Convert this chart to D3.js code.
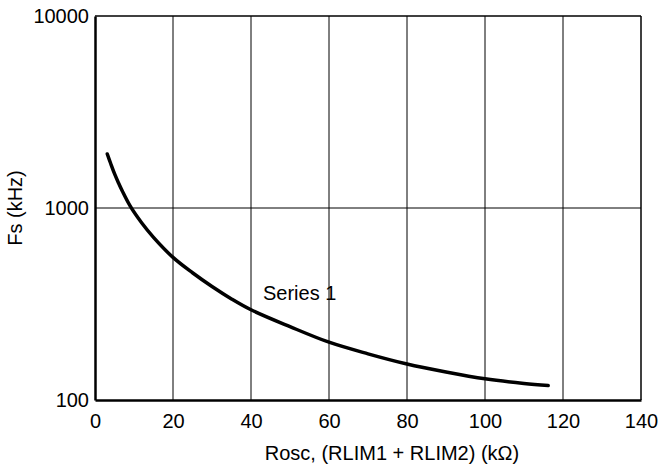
<!DOCTYPE html>
<html>
<head>
<meta charset="utf-8">
<script src="https://cdn.jsdelivr.net/npm/d3@7"></script>
<style>
  body { margin: 0; background: #fff; }
  svg text { font-family: "Liberation Sans", Arial, Helvetica, sans-serif; fill: #000; }
</style>
</head>
<body>
<svg id="chart"></svg>
<script>
// curve readings: Rosc (kOhm) vs Fs (kHz)
const roscValues = [3.15, 4, 5, 6, 7, 9, 12, 15, 20, 25, 30, 35, 40, 50, 60, 70, 80, 90, 100, 110, 116.2];
const fsValues = [1911, 1710, 1510, 1355, 1225, 1025, 835, 703, 553, 460, 390, 336, 295, 241, 200, 174, 154, 140, 129, 122, 119];
const xTicks = [0, 20, 40, 60, 80, 100, 120, 140];
const yTicks = [100, 1000, 10000];
const seriesName = 'Series 1';

const width = 659;
const height = 472;
const margin = { top: 16, right: 18, bottom: 72, left: 95 };
const fontSize = '20px';

const svg = d3.select('#chart')
    .attr('width', width)
    .attr('height', height);

const xScale = d3.scaleLinear()
    .domain([0, 140])
    .range([margin.left, width - margin.right]);

const yScale = d3.scaleLog()
    .domain([100, 10000])
    .range([height - margin.bottom, margin.top]);

// grid
svg.append('g')
    .selectAll('line')
    .data(xTicks.slice(1, -1))
    .join('line')
    .attr('x1', d => xScale(d))
    .attr('x2', d => xScale(d))
    .attr('y1', yScale(10000))
    .attr('y2', yScale(100))
    .attr('stroke', '#000')
    .attr('stroke-width', 1);

svg.append('g')
    .selectAll('line')
    .data(yTicks.slice(1, -1))
    .join('line')
    .attr('x1', xScale(0))
    .attr('x2', xScale(140))
    .attr('y1', d => yScale(d))
    .attr('y2', d => yScale(d))
    .attr('stroke', '#000')
    .attr('stroke-width', 1);

// frame: top and right thin, left and bottom heavy
svg.append('line')
    .attr('x1', xScale(0)).attr('x2', xScale(140))
    .attr('y1', yScale(10000)).attr('y2', yScale(10000))
    .attr('stroke', '#000').attr('stroke-width', 1.5);
svg.append('line')
    .attr('x1', xScale(140)).attr('x2', xScale(140))
    .attr('y1', yScale(10000)).attr('y2', yScale(100))
    .attr('stroke', '#000').attr('stroke-width', 1.5);

const xAxis = d3.axisBottom(xScale)
    .tickValues(xTicks)
    .tickSize(0)
    .tickPadding(14)
    .tickFormat(d3.format('d'));

const yAxis = d3.axisLeft(yScale)
    .tickValues(yTicks)
    .tickSize(0)
    .tickPadding(6)
    .tickFormat(d3.format('d'));

const gx = svg.append('g')
    .attr('transform', `translate(0, ${yScale(100)})`)
    .call(xAxis);
const gy = svg.append('g')
    .attr('transform', `translate(${xScale(0)}, 0)`)
    .call(yAxis);

[gx, gy].forEach(g => {
    g.select('.domain').attr('stroke', '#000').attr('stroke-width', 2.5);
    g.selectAll('text')
        .attr('font-size', fontSize)
        .attr('font-family', '"Liberation Sans", Arial, sans-serif');
});

// series
const points = roscValues.map((r, i) => [r, fsValues[i]]);
const line = d3.line()
    .x(d => xScale(d[0]))
    .y(d => yScale(d[1]))
    .curve(d3.curveCatmullRom);

svg.append('path')
    .datum(points)
    .attr('fill', 'none')
    .attr('stroke', '#000')
    .attr('stroke-width', 3.5)
    .attr('stroke-linecap', 'round')
    .attr('d', line);

svg.append('text')
    .attr('x', 263)
    .attr('y', 300)
    .attr('font-size', fontSize)
    .text(seriesName);

// axis titles
svg.append('text')
    .attr('x', (xScale(0) + xScale(140)) / 2 + 24)
    .attr('y', 460)
    .attr('text-anchor', 'middle')
    .attr('font-size', fontSize)
    .text('Rosc, (RLIM1 + RLIM2) (kΩ)');

svg.append('text')
    .attr('transform', 'rotate(-90)')
    .attr('x', -yScale(1000))
    .attr('y', 22)
    .attr('text-anchor', 'middle')
    .attr('font-size', fontSize)
    .text('Fs (kHz)');
</script>
</body>
</html>
